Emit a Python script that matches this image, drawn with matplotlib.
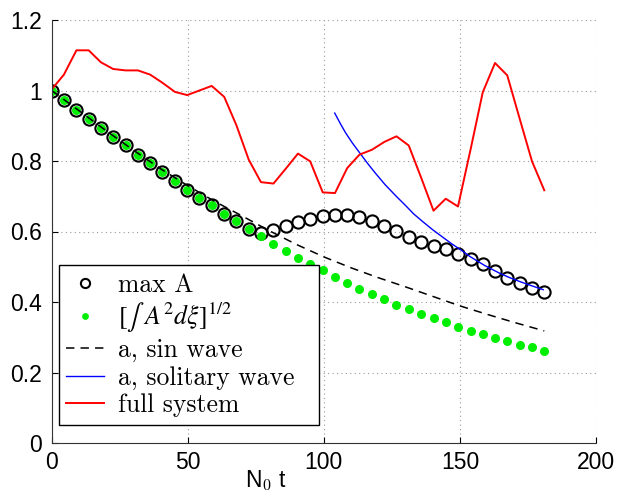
import numpy as np
import matplotlib
matplotlib.use("Agg")
import matplotlib.pyplot as plt

# ---- DATA ----
t = [0.0, 4.5, 9.1, 13.6, 18.1, 22.6, 27.2, 31.7, 36.2, 40.7,
     45.3, 49.8, 54.3, 58.8, 63.4, 67.9, 72.4, 76.9, 81.5, 86.0,
     90.5, 95.0, 99.6, 104.1, 108.6, 113.1, 117.7, 122.2, 126.7, 131.2,
     135.8, 140.3, 144.8, 149.3, 153.9, 158.4, 162.9, 167.4, 172.0, 176.5,
     181.0]

max_a = [1.000, 0.972, 0.946, 0.919, 0.893, 0.868, 0.844, 0.817, 0.793, 0.768,
         0.742, 0.719, 0.695, 0.674, 0.651, 0.631, 0.608, 0.597, 0.603, 0.615,
         0.627, 0.635, 0.643, 0.648, 0.646, 0.641, 0.631, 0.617, 0.601, 0.584,
         0.571, 0.560, 0.550, 0.536, 0.522, 0.507, 0.489, 0.468, 0.454, 0.439,
         0.427]

norm_a = [1.000, 0.972, 0.946, 0.919, 0.893, 0.868, 0.844, 0.817, 0.793, 0.768,
          0.742, 0.719, 0.695, 0.674, 0.651, 0.631, 0.608, 0.586, 0.564, 0.545,
          0.526, 0.508, 0.490, 0.471, 0.454, 0.438, 0.422, 0.408, 0.392, 0.380,
          0.366, 0.354, 0.342, 0.329, 0.319, 0.308, 0.297, 0.288, 0.278, 0.271,
          0.262]

full = [1.003, 1.045, 1.114, 1.114, 1.080, 1.061, 1.057, 1.057, 1.045, 1.022,
        0.996, 0.987, 1.000, 1.013, 0.982, 0.901, 0.804, 0.740, 0.736, 0.778,
        0.821, 0.799, 0.711, 0.709, 0.780, 0.818, 0.832, 0.854, 0.870, 0.844,
        0.752, 0.659, 0.693, 0.671, 0.832, 0.995, 1.078, 1.043, 0.919, 0.799,
        0.717]

t_sin = [0, 10, 20, 30, 40, 50, 60, 70, 80, 90, 100, 110, 120, 130, 140, 150, 160, 170, 181]
a_sin = [1.000, 0.943, 0.886, 0.831, 0.778, 0.730, 0.685, 0.644, 0.602, 0.563,
         0.528, 0.497, 0.469, 0.443, 0.416, 0.389, 0.365, 0.342, 0.318]

t_sol = [104, 106, 108, 110.5, 113.2, 116, 119, 122.5, 126.6, 130, 133, 136.5,
         140, 143.5, 147, 150.5, 153.7, 159, 164.5, 168, 172, 176, 180.6]
a_sol = [0.936, 0.907, 0.880, 0.851, 0.823, 0.794, 0.765, 0.733, 0.700, 0.674,
         0.650, 0.627, 0.605, 0.585, 0.565, 0.547, 0.529, 0.504, 0.482, 0.470,
         0.458, 0.447, 0.435]

# ---- PLOT ----
plt.rcParams["mathtext.fontset"] = "cm"

fig = plt.figure(figsize=(6.3, 5.0), dpi=100)
ax = fig.add_axes([0.082, 0.114, 0.864, 0.846])

ax.plot(t, max_a, "o", ms=8.8, mfc="none", mec="black", mew=1.5, label="max A")
ax.plot(t, norm_a, "o", ms=6.5, color="#00ee00", mec="none",
        label=r"$[\int\ A^2 d\xi]^{1/2}$")
ax.plot(t_sin, a_sin, "--", color="black", lw=1.1, dashes=(5.5, 4), label="a, sin wave")
ax.plot(t_sol, a_sol, "-", color="blue", lw=1.0, label="a, solitary wave")
ax.plot(t, full, "-", color="red", lw=1.4, label="full system")

ax.set_xlim(0, 200)
ax.set_ylim(0, 1.2)
ax.set_xticks([0, 50, 100, 150, 200])
ax.set_yticks([0, 0.2, 0.4, 0.6, 0.8, 1.0, 1.2])
ax.set_yticklabels(["0", "0.2", "0.4", "0.6", "0.8", "1", "1.2"])
ax.tick_params(direction="in", labelsize=16.5, length=4, width=0.8)
ax.tick_params(axis="y", pad=7)
ax.tick_params(axis="x", pad=6)
for lab in ax.get_xticklabels() + ax.get_yticklabels():
    lab.set_fontfamily("Liberation Sans")

ax.spines["top"].set_visible(False)
ax.spines["right"].set_visible(False)
ax.spines["left"].set_color("#333333")
ax.spines["bottom"].set_color("#333333")
ax.grid(True, linestyle=(0, (1, 3)), color="#999999", lw=0.8)

ax.set_xlabel(r"N$_0$ t", fontsize=16.5, fontfamily="Liberation Sans")
ax.xaxis.set_label_coords(0.394, -0.06)

leg = ax.legend(loc="lower left", bbox_to_anchor=(0.013, 0.043, 0.479, 0.0),
                mode="expand", fancybox=False, framealpha=1, edgecolor="black",
                borderaxespad=0.0,
                prop={"family": "cmr10", "size": 18.5},
                labelspacing=0.14, handlelength=1.45, handletextpad=0.55,
                borderpad=0.3, markerscale=0.75)
leg.get_frame().set_linewidth(1.0)
leg.get_texts()[1].set_math_fontfamily("stix")

fig.savefig("out.png", dpi=100)
